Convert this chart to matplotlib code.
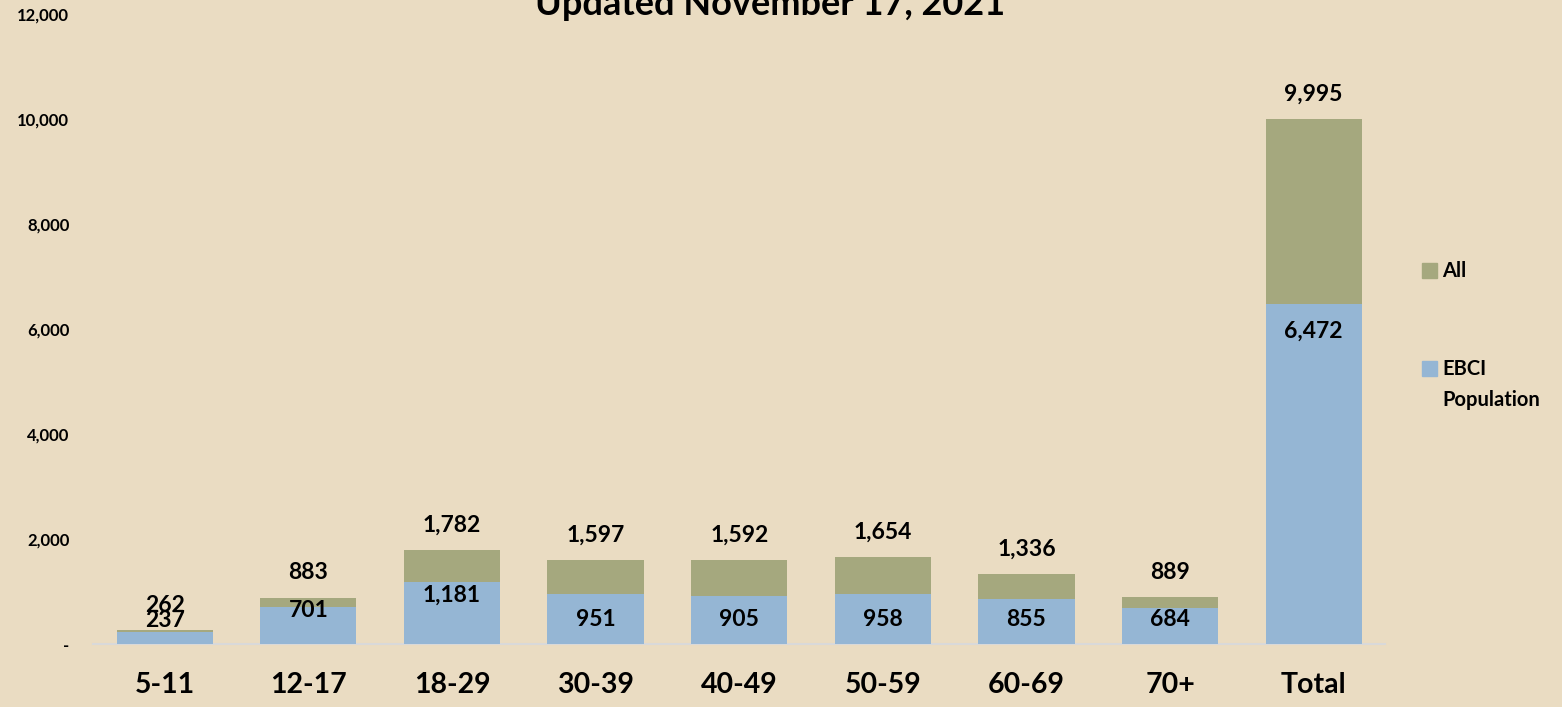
import matplotlib
matplotlib.use("Agg")
import matplotlib.pyplot as plt
from matplotlib.patches import Rectangle
from matplotlib.ticker import FuncFormatter

# data
categories = ["5-11", "12-17", "18-29", "30-39", "40-49", "50-59", "60-69", "70+", "Total"]
all_values = [262, 883, 1782, 1597, 1592, 1654, 1336, 889, 9995]
ebci_values = [237, 701, 1181, 951, 905, 958, 855, 684, 6472]
y_ticks = [0, 2000, 4000, 6000, 8000, 10000, 12000]

BG = "#EADCC2"
GREEN = "#A5A87E"
BLUE = "#95B6D4"


def main():
    plt.rcParams["font.family"] = ["Lato", "DejaVu Sans"]
    fig = plt.figure(figsize=(15.62, 7.07), dpi=100, facecolor=BG)
    ax = fig.add_axes([0.0595, 0.0891, 0.8275, 0.891])
    ax.set_facecolor(BG)

    x = list(range(len(categories)))
    ax.bar(x, all_values, width=0.67, color=GREEN, zorder=2)
    ax.bar(x, ebci_values, width=0.67, color=BLUE, zorder=3)

    # labels above the "All" bars
    for xi, v in zip(x, all_values):
        ax.annotate(f"{v:,}", (xi, v), xytext=(0, 18), textcoords="offset points",
                    ha="center", va="center", fontsize=16.5, fontweight="bold", zorder=5)

    # EBCI labels, placed by hand as in the original
    ebci_label_y = [457, 629, 933, 476, 476, 476, 476, 476, 5958]
    for xi, v, ly in zip(x, ebci_values, ebci_label_y):
        ax.text(xi, ly, f"{v:,}", ha="center", va="center", fontsize=16.5,
                fontweight="bold", zorder=5)

    ax.set_xlim(-0.5, len(categories) - 0.5)
    ax.set_ylim(0, 12000)
    ax.set_yticks(y_ticks)
    ax.yaxis.set_major_formatter(FuncFormatter(lambda v, p: "-" if v == 0 else f"{int(v):,}"))
    ax.set_xticks(x)
    ax.set_xticklabels(categories, fontsize=20.5, fontweight="bold")
    for lbl in ax.get_yticklabels():
        lbl.set_fontsize(12)
        lbl.set_fontweight("bold")
    ax.tick_params(axis="y", length=0, pad=17)
    ax.tick_params(axis="x", length=0, pad=20)

    for side in ["top", "right", "left"]:
        ax.spines[side].set_visible(False)
    ax.spines["bottom"].set_color("#D9D9D9")
    ax.spines["bottom"].set_linewidth(1.5)

    # title, cut off at the top like the source image
    fig.text(0.493, 0.994, "Updated November 17, 2021", ha="center", va="center",
             fontsize=26, fontweight="bold")

    # legend
    fig.add_artist(Rectangle((0.9105, 0.6065), 0.0095, 0.021, transform=fig.transFigure,
                             color=GREEN))
    fig.text(0.9235, 0.616, "All", ha="left", va="center", fontsize=14.5, fontweight="bold")
    fig.add_artist(Rectangle((0.9105, 0.4685), 0.0095, 0.021, transform=fig.transFigure,
                             color=BLUE))
    fig.text(0.9235, 0.478, "EBCI", ha="left", va="center", fontsize=14.5, fontweight="bold")
    fig.text(0.9235, 0.434, "Population", ha="left", va="center", fontsize=14.5,
             fontweight="bold")

    fig.savefig("out.png", dpi=100, facecolor=BG)


if __name__ == "__main__":
    main()
